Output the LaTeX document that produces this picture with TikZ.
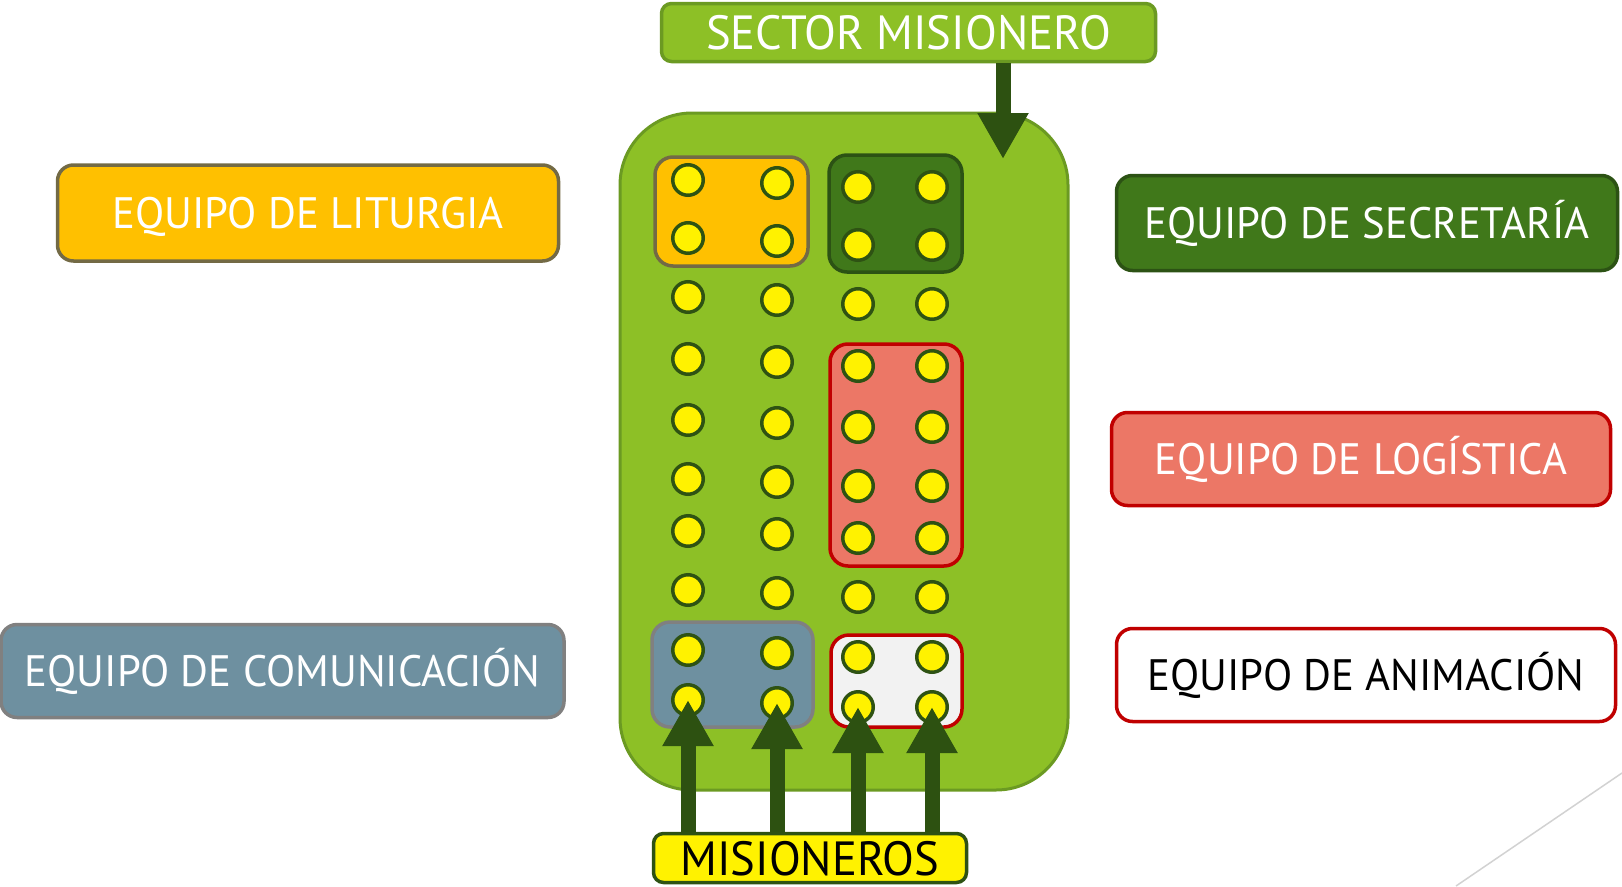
\documentclass[tikz,border=0pt]{standalone}
\usepackage{fontspec}
\setmainfont{PT Sans}[FakeStretch=0.97]
\usetikzlibrary{arrows.meta}

\definecolor{leaf}{HTML}{8DC026}
\definecolor{leafline}{HTML}{6B9A22}
\definecolor{amber}{HTML}{FFC000}
\definecolor{amberline}{HTML}{736A45}
\definecolor{pine}{HTML}{40781A}
\definecolor{pineline}{HTML}{2C5214}
\definecolor{salmon}{HTML}{EC7766}
\definecolor{crimson}{HTML}{C00000}
\definecolor{slate}{HTML}{6E90A0}
\definecolor{slateline}{HTML}{808080}
\definecolor{paper}{HTML}{F2F2F2}
\definecolor{dotline}{HTML}{2E5213}
\definecolor{arrowgreen}{HTML}{2D5111}

\begin{document}
\begin{tikzpicture}[x=1pt,y=-1pt,
  teamlabel/.style={draw, line width=3.5pt, rounded corners=16pt, inner sep=0pt,
    font=\fontsize{44}{44}\selectfont, text height=31pt, text depth=0pt},
  team/.style={line width=3.5pt, rounded corners=18pt},
  member/.style={circle, draw=dotline, fill=yellow, line width=3.5pt,
    minimum size=30.5pt, inner sep=0pt},
  bigarrow/.style={draw=arrowgreen, line width=15pt,
    -{Triangle[width=48pt,length=46pt]}}]
\useasboundingbox (0,0) rectangle (1622,886);
\draw[gray!35, line width=1.5pt] (1456,886) -- (1622,773);
% sector
\draw[fill=leaf, draw=leafline, line width=3pt, rounded corners=72pt] (620,113) rectangle (1068,790);
\draw[team, fill=amber, draw=amberline] (655,157) rectangle (808,266);
\draw[team, fill=pine, draw=pineline] (829,155) rectangle (962,272);
\draw[team, fill=salmon, draw=crimson] (830,344) rectangle (962,566);
\draw[team, fill=slate, draw=slateline] (652,622) rectangle (813,727);
\draw[team, fill=paper, draw=crimson] (831,635) rectangle (962,727);
\foreach \col/\x/\dy in {a/688/0, b/777/3, c/858/7, d/932/7}
  \foreach \y [count=\i] in {180,238,297,359,420,479,531,590,650,700}
    \node[member] (\col\i) at (\x,\y+\dy) {};
% labels
\node[teamlabel, fill=amber, draw=amberline, text=white, minimum width=501pt, minimum height=96pt]
  (liturgia) at (308,213) {EQUIPO DE LITURGIA};
\node[teamlabel, fill=pine, draw=pineline, text=white, minimum width=501pt, minimum height=95pt]
  (secretaria) at (1367,223) {EQUIPO DE SECRETARÍA};
\node[teamlabel, fill=salmon, draw=crimson, text=white, minimum width=499pt, minimum height=93pt]
  (logistica) at (1361,459) {EQUIPO DE LOGÍSTICA};
\node[teamlabel, fill=slate, draw=slateline, text=white, minimum width=563pt, minimum height=93pt]
  (comunicacion) at (282.5,671) {EQUIPO DE COMUNICACIÓN};
\node[teamlabel, fill=white, draw=crimson, text=black, minimum width=499pt, minimum height=93pt]
  (animacion) at (1366,675) {EQUIPO DE ANIMACIÓN};
\node[teamlabel, fill=leaf, draw=leafline, text=white, minimum width=494pt, minimum height=58pt,
  rounded corners=10pt, font=\fontsize{48}{48}\selectfont, text height=34pt] (sector) at (908.5,32.5) {SECTOR MISIONERO};
\node[teamlabel, fill=yellow, draw=dotline, text=black, minimum width=313pt, minimum height=49pt,
  rounded corners=10pt, font=\fontsize{48}{48}\selectfont, text height=34pt] (mis) at (810,858) {MISIONEROS};
% arrows
\coordinate (secttip) at (1003,159);
\draw[bigarrow] (sector.south -| secttip) -- (secttip);
\foreach \c in {a,b,c,d}
  \draw[bigarrow] (\c10 |- mis.north) -- (\c10.center);
\end{tikzpicture}
\end{document}
